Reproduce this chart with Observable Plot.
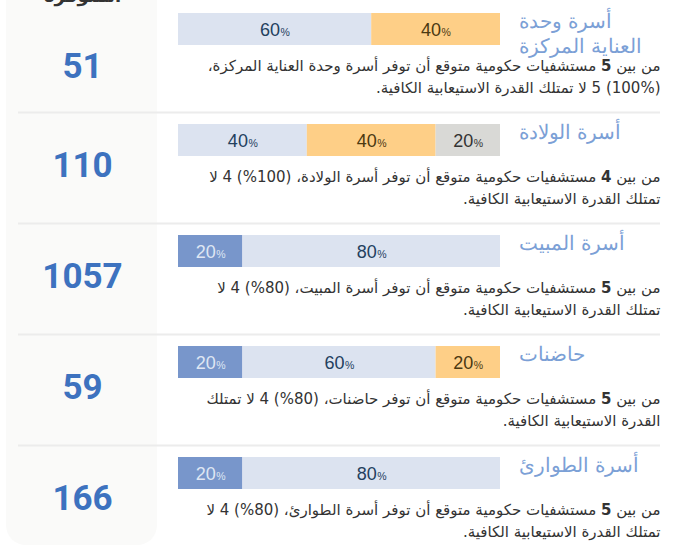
<!DOCTYPE html>
<html lang="ar">
<head>
<meta charset="utf-8">
<script src="https://cdn.jsdelivr.net/npm/d3@7"></script>
<script src="https://cdn.jsdelivr.net/npm/@observablehq/plot@0.6"></script>
<style>
  html, body { margin: 0; padding: 0; background: #ffffff; }
  #chart { width: 678px; height: 550px; overflow: hidden; }
</style>
</head>
<body>
<div id="chart"></div>
<script>
// Bed types, one row each
const bedTypes = ["أسرة وحدة العناية المركزة", "أسرة الولادة", "أسرة المبيت", "حاضنات", "أسرة الطوارئ"];
const bedTitles = ["أسرة وحدة\nالعناية المركزة", "أسرة الولادة", "أسرة المبيت", "حاضنات", "أسرة الطوارئ"];

// Number of beds available per type
const bedsAvailable = [51, 110, 1057, 59, 166];

// Government hospitals expected to provide each bed type
const hospitalsExpected = [5, 4, 5, 5, 5];

// Share of hospitals (%) by capacity level
const shareSufficient = [0, 0, 20, 20, 20];
const shareInsufficient = [60, 40, 80, 60, 80];
const shareSevere = [40, 40, 0, 20, 0];
const shareNoData = [0, 20, 0, 0, 0];

const columnHeader = "المتوفرة";

const descriptions = [
  "من بين 5 مستشفيات حكومية متوقع أن توفر أسرة وحدة العناية المركزة،\n(100%) 5 لا تمتلك القدرة الاستيعابية الكافية.",
  "من بين 4 مستشفيات حكومية متوقع أن توفر أسرة الولادة، (100%) 4 لا\nتمتلك القدرة الاستيعابية الكافية.",
  "من بين 5 مستشفيات حكومية متوقع أن توفر أسرة المبيت، (80%) 4 لا\nتمتلك القدرة الاستيعابية الكافية.",
  "من بين 5 مستشفيات حكومية متوقع أن توفر حاضنات، (80%) 4 لا تمتلك\nالقدرة الاستيعابية الكافية.",
  "من بين 5 مستشفيات حكومية متوقع أن توفر أسرة الطوارئ، (80%) 4 لا\nتمتلك القدرة الاستيعابية الكافية."
];

// ---- derived table: stacked segments, left to right ----
const seriesKeys = ["sufficient", "insufficient", "severe", "nodata"];
const shares = {sufficient: shareSufficient, insufficient: shareInsufficient, severe: shareSevere, nodata: shareNoData};
const segments = bedTypes.flatMap((type, i) => {
  let acc = 0;
  return seriesKeys.map(series => {
    const value = shares[series][i];
    const seg = {type, series, value, x1: acc, x2: acc + value};
    acc += value;
    return seg;
  }).filter(d => d.value > 0);
});

const fills = ["#7896cb", "#dce3f0", "#fecf87", "#d9d9d6"];
const inks = {sufficient: "#dfe6f3", insufficient: "#23405e", severe: "#4b3912", nodata: "#333333"};
const mid = d => (d.x1 + d.x2) / 2;
const arabicFont = "'DejaVu Sans', sans-serif";
const latinFont = "'Liberation Sans', Arial, sans-serif";

const percentMarks = seriesKeys.flatMap(key => {
  const segs = segments.filter(d => d.series === key);
  return [
    Plot.text(segs, {x: mid, y: "type", text: d => String(d.value), textAnchor: "end", dx: 5, dy: 1,
      fontSize: 18, fontFamily: latinFont, fill: inks[key]}),
    Plot.text(segs, {x: mid, y: "type", text: () => "%", textAnchor: "start", dx: 5.5, dy: 3.4,
      fontSize: 10.5, fontFamily: latinFont, fill: inks[key]})
  ];
});

const countText = d => String(bedsAvailable[bedTypes.indexOf(d)]);

const chart = Plot.plot({
  width: 678,
  height: 550,
  marginLeft: 18,
  marginRight: 18,
  marginTop: 0,
  marginBottom: 0,
  style: {background: "transparent", fontFamily: arabicFont},
  x: {domain: [0, 100], range: [178, 500], axis: null},
  y: {domain: bedTypes, range: [13, 489], paddingInner: 0.712, paddingOuter: 0, align: 0, axis: null},
  color: {domain: seriesKeys, range: fills},
  marks: [
    // row separators
    Plot.ruleY(bedTypes.slice(1), {y: Plot.identity, dy: -28, stroke: "#ececec", strokeWidth: 2}),
    // stacked capacity bars
    Plot.barX(segments, {x1: "x1", x2: "x2", y: "type", fill: "series"}),
    ...percentMarks,
    // bed type titles to the right of each bar
    Plot.text(bedTypes, {x: () => 100, y: Plot.identity, text: (d, i) => bedTitles[i],
      textAnchor: "start", lineAnchor: "top", dx: 18, dy: -19, fontSize: 20, lineHeight: 1.25,
      fill: "#7ba0d6", fontWeight: 300, fontFamily: arabicFont}),
    // explanatory sentence under each bar
    Plot.text(bedTypes, {frameAnchor: "right", y: Plot.identity, text: (d, i) => descriptions[i],
      textAnchor: "start", lineAnchor: "top", dy: 26, fontSize: 15, lineHeight: 22 / 15,
      fill: "#333333", fontFamily: arabicFont}),
    // column header and available-bed counts
    Plot.text([columnHeader], {frameAnchor: "top-left", dx: 64, dy: -4, lineAnchor: "middle",
      textAnchor: "middle", fontSize: 18, fontWeight: "bold", fill: "#333333", fontFamily: arabicFont}),
    Plot.text(bedTypes.slice(0, 1), {frameAnchor: "left", dx: 64, y: Plot.identity, dy: 37,
      text: countText, textAnchor: "middle",
      fontSize: 35, fontWeight: "bold", fill: "#3d72bf", fontFamily: "Roboto, sans-serif"}),
    Plot.text(bedTypes.slice(1), {frameAnchor: "left", dx: 64, y: Plot.identity, dy: 25,
      text: countText, textAnchor: "middle",
      fontSize: 35, fontWeight: "bold", fill: "#3d72bf", fontFamily: "Roboto, sans-serif"})
  ]
});

// Left column panel behind the counts
const svgNS = "http://www.w3.org/2000/svg";
d3.select(chart).insert("rect", ":first-child")
  .attr("x", 6).attr("y", -40).attr("width", 151).attr("height", 585)
  .attr("rx", 20).attr("fill", "#fafaf9");

// Sentences read right to left; the hospital count is set in bold
const prefix = "من بين ";
d3.select(chart).selectAll("text")
  .filter(function() { return this.textContent.startsWith(prefix); })
  .attr("direction", "rtl").style("direction", "rtl").attr("text-anchor", "start")
  .each(function(_, i) {
    const first = this.querySelector("tspan") || this;
    const full = first.textContent;
    const n = String(hospitalsExpected[i]);
    if (full.startsWith(prefix + n)) {
      const rest = full.slice(prefix.length + n.length);
      first.textContent = "";
      first.append(prefix);
      const b = document.createElementNS(svgNS, "tspan");
      b.setAttribute("font-weight", "bold");
      b.textContent = n;
      first.append(b);
      first.append(rest);
    }
  });

document.getElementById("chart").append(chart);
</script>
</body>
</html>
